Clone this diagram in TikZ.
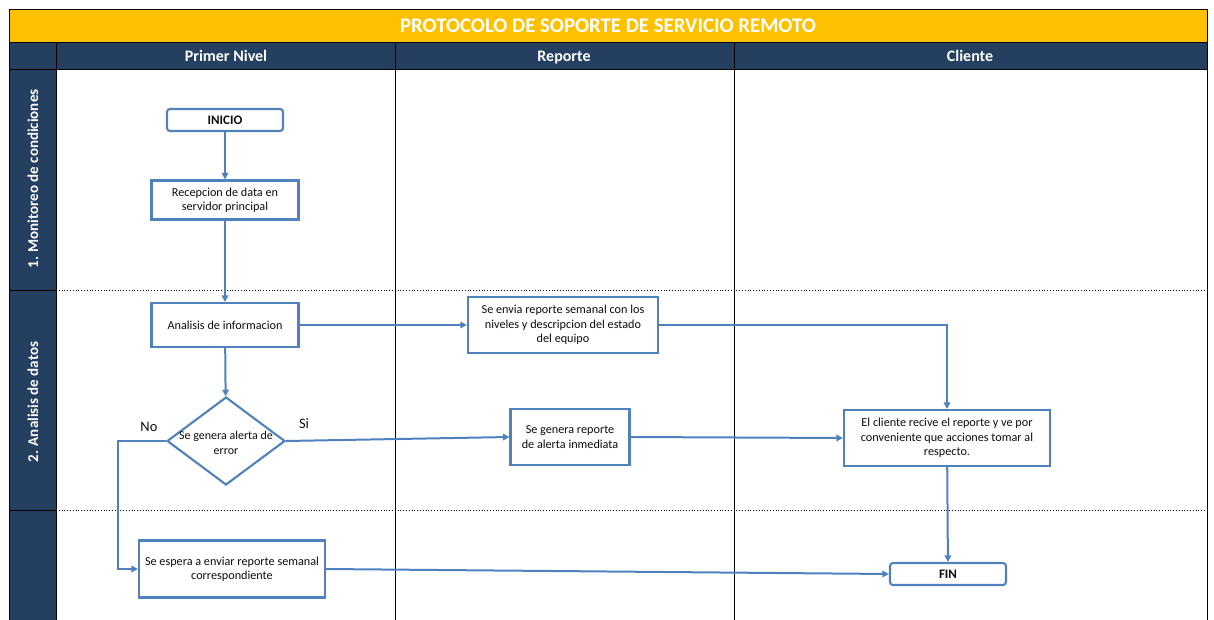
\documentclass[tikz,border=0pt]{standalone}
\usepackage{fontspec}
\setmainfont{Carlito}
\usetikzlibrary{shapes.geometric,arrows.meta}
\definecolor{navy}{HTML}{243F60}
\definecolor{gold}{HTML}{FFC000}
\definecolor{flow}{HTML}{4F81BD}
\definecolor{ink}{HTML}{0D0D0D}
\begin{document}
\begin{tikzpicture}[x=1pt,y=-1pt,
  box/.style={draw=flow,line width=2.1pt,fill=white,align=center,text=ink,font=\fontsize{12.2}{14.5}\selectfont,inner sep=2pt},
  term/.style={box,rounded corners=3pt,font=\bfseries\fontsize{13}{15}\selectfont},
  dec/.style={draw=flow,line width=2.1pt,fill=white,diamond,minimum width=118pt,minimum height=88pt,inner sep=0pt},
  conn/.style={draw=flow,line width=2pt,-{Triangle[length=6.5pt,width=6.5pt]}},
  ttl/.style={text=white,font=\bfseries\fontsize{20.8}{22}\selectfont,anchor=base},
  hdr/.style={text=white,font=\bfseries\fontsize{16}{18}\selectfont,anchor=base,inner sep=0pt},
  lane/.style={text=white,font=\bfseries\fontsize{15}{17}\selectfont,rotate=90},
  lbl/.style={text=ink,font=\fontsize{14.5}{16}\selectfont,anchor=base,inner sep=0pt},
  grid/.style={draw=black,line width=0.9pt},
  sep/.style={draw=black,line width=0.8pt,dotted}]
\useasboundingbox (0,0) rectangle (1214,620);
% backgrounds
\fill[gold] (9,9) rectangle (1207,42);
\fill[navy] (9,42) rectangle (1207,69);
\fill[navy] (9,69) rectangle (56,620);
% grid
\draw[grid] (9,9) -- (1207,9);
\draw[grid] (9,42) -- (1207,42);
\draw[grid] (9,69) -- (1207,69);
\draw[grid] (9,9) -- (9,620);
\draw[grid] (1207,9) -- (1207,620);
\draw[grid] (56,42) -- (56,620);
\draw[grid] (395,42) -- (395,620);
\draw[grid] (734,42) -- (734,620);
\draw[grid] (9,290) -- (56,290);
\draw[grid] (9,510) -- (56,510);
\draw[sep] (56,290) -- (1207,290);
\draw[sep] (56,510) -- (1207,510);
% titles
\node[ttl] (title) at (608,32.5) {PROTOCOLO DE SOPORTE DE SERVICIO REMOTO};
\node[hdr] (h1) at (226,61.5) {Primer Nivel};
\node[hdr] (h2) at (564,61.5) {Reporte};
\node[hdr] (h3) at (970,61.5) {Cliente};
\node[lane] (l1) at (33,179) {1. Monitoreo de condiciones};
\node[lane] (l2) at (33,402) {2. Analisis de datos};
% nodes
\node[term,minimum width=116pt,minimum height=22pt] (inicio) at (225,120) {INICIO};
\node[box,minimum width=147pt,minimum height=39pt] (recep) at (225,200) {Recepcion de data en\\servidor principal};
\node[box,minimum width=147pt,minimum height=44pt] (anal) at (225,325) {Analisis de informacion};
\node[dec,label={[align=center,text=ink,font=\fontsize{12}{14.5}\selectfont,yshift=-2pt]center:Se genera alerta de\\error}] (dec) at (226,441) {};
\node[box,minimum width=190pt,minimum height=56pt] (envia) at (563,325) {Se envia reporte semanal con los\\niveles y descripcion del estado\\del equipo};
\node[box,minimum width=119pt,minimum height=56pt] (alerta) at (570,437) {Se genera reporte\\de alerta inmediata};
\node[box,minimum width=206pt,minimum height=56pt] (cliente) at (947,438) {El cliente recive el reporte y ve por\\conveniente que acciones tomar al\\respecto.};
\node[box,minimum width=186pt,minimum height=57pt] (espera) at (232,569) {Se espera a enviar reporte semanal\\correspondiente};
\node[term,minimum width=116pt,minimum height=22pt] (fin) at (948,574) {FIN};
\node[lbl] (si) at (304,428) {Si};
\node[lbl] (no) at (149,431.5) {No};
% connectors
\draw[conn] (inicio) -- (recep);
\draw[conn] (recep) -- (anal);
\draw[conn] (anal) -- (dec);
\draw[conn] (anal) -- (envia);
\draw[conn] (envia.east) -| (cliente.north);
\draw[conn] (dec.east) -- (alerta.west);
\draw[conn] (alerta.east) -- (cliente.west);
\draw[conn] (dec.west) -- ++(-48,0) |- (espera.west);
\draw[conn] (cliente) -- (fin);
\draw[conn] (espera.east) -- (fin.west);
\end{tikzpicture}
\end{document}
